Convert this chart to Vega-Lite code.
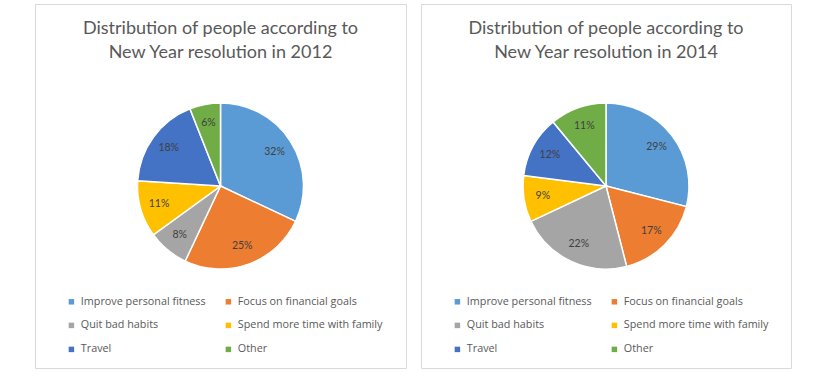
{
  "$schema": "https://vega.github.io/schema/vega-lite/v6.json",
  "padding": {"left": 34, "top": 3, "right": 0, "bottom": 0},
  "background": "white",
  "spacing": 13,
  "datasets": {
    "pie": [
      {"year": 2012, "idx": 1, "resolution": "Improve personal fitness", "share": 0.32},
      {"year": 2012, "idx": 2, "resolution": "Focus on financial goals", "share": 0.25},
      {"year": 2012, "idx": 3, "resolution": "Quit bad habits", "share": 0.08},
      {"year": 2012, "idx": 4, "resolution": "Spend more time with family", "share": 0.11},
      {"year": 2012, "idx": 5, "resolution": "Travel", "share": 0.18},
      {"year": 2012, "idx": 6, "resolution": "Other", "share": 0.06},
      {"year": 2014, "idx": 1, "resolution": "Improve personal fitness", "share": 0.29},
      {"year": 2014, "idx": 2, "resolution": "Focus on financial goals", "share": 0.17},
      {"year": 2014, "idx": 3, "resolution": "Quit bad habits", "share": 0.22},
      {"year": 2014, "idx": 4, "resolution": "Spend more time with family", "share": 0.09},
      {"year": 2014, "idx": 5, "resolution": "Travel", "share": 0.12},
      {"year": 2014, "idx": 6, "resolution": "Other", "share": 0.11}
    ]
  },
  "config": {
    "view": {"stroke": "#D9D9D9", "strokeWidth": 1},
    "title": {"font": "Lato", "fontSize": 18, "fontWeight": "normal", "color": "#595959", "anchor": "middle", "offset": -58, "lineHeight": 24},
    "legend": {"orient": "none", "legendX": 31, "legendY": 292, "direction": "horizontal", "columns": 2, "symbolType": "square", "symbolSize": 30, "labelFont": "Open Sans", "labelFontSize": 10.8, "labelColor": "#595959", "rowPadding": 12, "columnPadding": 17, "title": null, "symbolStrokeWidth": 0}
  },
  "resolve": {"legend": {"color": "independent"}},
  "hconcat": [
    {
      "width": 371, "height": 364,
      "view": {"stroke": "#D9D9D9", "strokeWidth": 1},
      "title": {"text": ["Distribution of people according to", "New Year resolution in 2012"]},
      "data": {"name": "pie"},
      "transform": [{"filter": "datum.year == 2012"}],
      "encoding": {
        "theta": {"field": "share", "type": "quantitative", "stack": true},
        "order": {"field": "idx", "type": "quantitative"}
      },
      "layer": [
        {
          "mark": {"type": "arc", "outerRadius": 83, "stroke": "white", "strokeWidth": 1.5},
          "encoding": {
            "color": {"field": "resolution", "type": "nominal",
              "scale": {"domain": ["Improve personal fitness", "Focus on financial goals", "Quit bad habits", "Spend more time with family", "Travel", "Other"],
                        "range": ["#5B9BD5", "#ED7D31", "#A5A5A5", "#FFC000", "#4472C4", "#70AD47"]}}
          }
        },
        {
          "mark": {"type": "text", "radius": 64, "font": "Lato", "fontSize": 10.5, "color": "#404040"},
          "encoding": {"text": {"field": "share", "type": "quantitative", "format": ".0%"}}
        }
      ]
    },
    {
      "width": 370, "height": 364,
      "view": {"stroke": "#D9D9D9", "strokeWidth": 1},
      "title": {"text": ["Distribution of people according to", "New Year resolution in 2014"]},
      "data": {"name": "pie"},
      "transform": [{"filter": "datum.year == 2014"}],
      "encoding": {
        "theta": {"field": "share", "type": "quantitative", "stack": true},
        "order": {"field": "idx", "type": "quantitative"}
      },
      "layer": [
        {
          "mark": {"type": "arc", "outerRadius": 83, "stroke": "white", "strokeWidth": 1.5},
          "encoding": {
            "color": {"field": "resolution", "type": "nominal",
              "scale": {"domain": ["Improve personal fitness", "Focus on financial goals", "Quit bad habits", "Spend more time with family", "Travel", "Other"],
                        "range": ["#5B9BD5", "#ED7D31", "#A5A5A5", "#FFC000", "#4472C4", "#70AD47"]}}
          }
        },
        {
          "mark": {"type": "text", "radius": 64, "font": "Lato", "fontSize": 10.5, "color": "#404040"},
          "encoding": {"text": {"field": "share", "type": "quantitative", "format": ".0%"}}
        }
      ]
    }
  ]
}
